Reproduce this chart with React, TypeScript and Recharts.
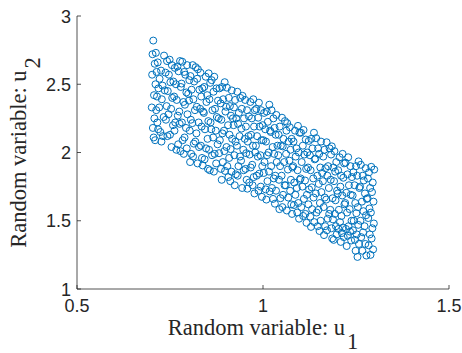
import React from 'react';
import { ScatterChart, Scatter, XAxis, YAxis } from 'recharts';

// Axis ticks
const xTicks = [0.5, 1, 1.5];
const xTickLabels = ['0.5', '1', '1.5'];
const yTicks = [1, 1.5, 2, 2.5, 3];
const yTickLabels = ['1', '1.5', '2', '2.5', '3'];

// Sample points [u1, u2], grouped by u1 range
const samplesA: [number, number][] = [
  [0.705, 2.82], [0.712, 2.73], [0.703, 2.72], [0.717, 2.66], [0.709, 2.65], [0.714, 2.59], [0.702, 2.57], [0.711, 2.5],
  [0.719, 2.47], [0.707, 2.42], [0.715, 2.41], [0.701, 2.33], [0.713, 2.31], [0.708, 2.25], [0.716, 2.22], [0.704, 2.18],
  [0.718, 2.17], [0.706, 2.11], [0.71, 2.09],
  [0.734, 2.71], [0.726, 2.6], [0.738, 2.585], [0.722, 2.54], [0.73, 2.49], [0.736, 2.455], [0.728, 2.39], [0.721, 2.33],
  [0.733, 2.26], [0.739, 2.24], [0.724, 2.15], [0.731, 2.12], [0.727, 2.08],
  [0.749, 2.68], [0.742, 2.67], [0.755, 2.64], [0.747, 2.57], [0.759, 2.52], [0.751, 2.515], [0.744, 2.45], [0.756, 2.4],
  [0.741, 2.34], [0.753, 2.32], [0.746, 2.28], [0.758, 2.2], [0.75, 2.13], [0.743, 2.12], [0.754, 2.04],
  [0.777, 2.67], [0.77, 2.63], [0.763, 2.62], [0.773, 2.595], [0.766, 2.5], [0.779, 2.48], [0.761, 2.41], [0.768, 2.385],
  [0.775, 2.3], [0.771, 2.27], [0.764, 2.22], [0.776, 2.21], [0.762, 2.16], [0.772, 2.06], [0.767, 2.02], [0.778, 2.01],
  [0.783, 2.665], [0.796, 2.64], [0.788, 2.59], [0.791, 2.57], [0.781, 2.505], [0.794, 2.44], [0.799, 2.43], [0.786, 2.37],
  [0.79, 2.35], [0.797, 2.28], [0.782, 2.22], [0.793, 2.18], [0.789, 2.11], [0.784, 2.09], [0.795, 2.03], [0.787, 1.99],
];

const samplesB: [number, number][] = [
  [0.811, 2.64], [0.819, 2.625], [0.805, 2.56], [0.802, 2.53], [0.815, 2.52], [0.808, 2.46], [0.813, 2.39], [0.801, 2.38],
  [0.817, 2.31], [0.806, 2.24], [0.81, 2.215], [0.803, 2.16], [0.818, 2.08], [0.814, 2.065], [0.807, 1.99], [0.812, 1.97], [0.804, 1.93],
  [0.825, 2.61], [0.832, 2.585], [0.823, 2.54], [0.837, 2.47], [0.829, 2.46], [0.834, 2.41], [0.822, 2.335], [0.831, 2.32],
  [0.839, 2.3], [0.827, 2.22], [0.835, 2.19], [0.821, 2.14], [0.833, 2.05], [0.828, 2.04], [0.836, 1.96], [0.824, 1.92], [0.838, 1.905],
  [0.854, 2.58], [0.846, 2.555], [0.858, 2.51], [0.842, 2.48], [0.85, 2.42], [0.856, 2.39], [0.848, 2.37], [0.841, 2.29],
  [0.853, 2.23], [0.859, 2.22], [0.844, 2.17], [0.851, 2.1], [0.847, 2.03], [0.855, 2.02], [0.843, 1.95], [0.852, 1.88], [0.857, 1.87],
  [0.869, 2.555], [0.862, 2.53], [0.875, 2.47], [0.867, 2.445], [0.879, 2.38], [0.871, 2.32], [0.864, 2.31], [0.876, 2.26],
  [0.861, 2.17], [0.873, 2.16], [0.866, 2.11], [0.878, 2.06], [0.87, 1.99], [0.863, 1.98], [0.874, 1.92], [0.868, 1.86],
  [0.897, 2.515], [0.89, 2.48], [0.883, 2.47], [0.893, 2.39], [0.886, 2.36], [0.899, 2.3], [0.881, 2.25], [0.888, 2.24],
  [0.895, 2.16], [0.891, 2.14], [0.884, 2.09], [0.896, 2.01], [0.882, 1.995], [0.892, 1.93], [0.887, 1.88], [0.898, 1.865], [0.889, 1.8],
];

const samplesC: [number, number][] = [
  [0.903, 2.475], [0.916, 2.455], [0.908, 2.4], [0.911, 2.34], [0.901, 2.335], [0.914, 2.27], [0.919, 2.25], [0.906, 2.2],
  [0.91, 2.13], [0.917, 2.1], [0.902, 2.04], [0.913, 2.025], [0.909, 1.96], [0.904, 1.9], [0.915, 1.86], [0.907, 1.82], [0.912, 1.79],
  [0.931, 2.445], [0.939, 2.4], [0.925, 2.385], [0.922, 2.33], [0.935, 2.29], [0.928, 2.25], [0.933, 2.21], [0.921, 2.2],
  [0.937, 2.12], [0.926, 2.08], [0.93, 2.05], [0.923, 1.98], [0.938, 1.97], [0.934, 1.9], [0.927, 1.84], [0.932, 1.83], [0.924, 1.76],
  [0.945, 2.415], [0.952, 2.385], [0.943, 2.32], [0.957, 2.31], [0.949, 2.25], [0.954, 2.19], [0.942, 2.175], [0.951, 2.1],
  [0.959, 2.08], [0.947, 2.02], [0.955, 1.995], [0.941, 1.94], [0.953, 1.88], [0.948, 1.87], [0.956, 1.8], [0.944, 1.74], [0.958, 1.735],
  [0.974, 2.39], [0.966, 2.37], [0.978, 2.31], [0.962, 2.265], [0.97, 2.25], [0.976, 2.19], [0.968, 2.13], [0.961, 2.12],
  [0.973, 2.05], [0.979, 2.0], [0.964, 1.985], [0.971, 1.91], [0.967, 1.89], [0.975, 1.82], [0.963, 1.78], [0.972, 1.76], [0.977, 1.7],
  [0.989, 2.365], [0.982, 2.32], [0.995, 2.31], [0.987, 2.255], [0.999, 2.2], [0.991, 2.19], [0.984, 2.12], [0.996, 2.09],
  [0.981, 2.05], [0.993, 1.98], [0.986, 1.97], [0.998, 1.9], [0.99, 1.845], [0.983, 1.83], [0.994, 1.75], [0.988, 1.72], [0.997, 1.675],
];

const samplesD: [number, number][] = [
  [1.017, 2.35], [1.01, 2.3], [1.003, 2.29], [1.013, 2.225], [1.006, 2.17], [1.019, 2.16], [1.001, 2.09], [1.008, 2.08],
  [1.015, 2.0], [1.011, 1.98], [1.004, 1.93], [1.016, 1.86], [1.002, 1.85], [1.012, 1.79], [1.007, 1.73], [1.018, 1.715], [1.009, 1.655],
  [1.023, 2.31], [1.036, 2.275], [1.028, 2.25], [1.031, 2.18], [1.021, 2.15], [1.034, 2.13], [1.039, 2.05], [1.026, 2.04],
  [1.03, 1.99], [1.037, 1.93], [1.022, 1.9], [1.033, 1.83], [1.029, 1.81], [1.024, 1.74], [1.035, 1.72], [1.027, 1.66], [1.032, 1.625],
  [1.051, 2.255], [1.059, 2.23], [1.045, 2.19], [1.042, 2.13], [1.055, 2.1], [1.048, 2.05], [1.053, 2.045], [1.041, 1.98],
  [1.057, 1.93], [1.046, 1.9], [1.05, 1.83], [1.043, 1.8], [1.058, 1.76], [1.054, 1.69], [1.047, 1.665], [1.052, 1.6], [1.044, 1.585],
  [1.065, 2.215], [1.072, 2.185], [1.063, 2.16], [1.077, 2.1], [1.069, 2.08], [1.074, 2.02], [1.062, 1.99], [1.071, 1.94],
  [1.079, 1.89], [1.067, 1.875], [1.075, 1.8], [1.061, 1.76], [1.073, 1.72], [1.068, 1.67], [1.076, 1.62], [1.064, 1.575], [1.078, 1.55],
  [1.094, 2.195], [1.086, 2.16], [1.098, 2.145], [1.082, 2.08], [1.09, 2.03], [1.096, 2.0], [1.088, 1.97], [1.081, 1.9],
  [1.093, 1.87], [1.099, 1.8], [1.084, 1.78], [1.091, 1.74], [1.087, 1.69], [1.095, 1.63], [1.083, 1.615], [1.092, 1.56], [1.097, 1.515],
];

const samplesE: [number, number][] = [
  [1.109, 2.165], [1.102, 2.145], [1.115, 2.095], [1.107, 2.05], [1.119, 2.0], [1.111, 1.985], [1.104, 1.93], [1.116, 1.88],
  [1.101, 1.81], [1.113, 1.795], [1.106, 1.75], [1.118, 1.69], [1.11, 1.66], [1.103, 1.6], [1.114, 1.55], [1.108, 1.535], [1.117, 1.485],
  [1.137, 2.145], [1.13, 2.1], [1.123, 2.085], [1.133, 2.03], [1.126, 1.98], [1.139, 1.95], [1.121, 1.89], [1.128, 1.87],
  [1.135, 1.81], [1.131, 1.745], [1.124, 1.73], [1.136, 1.67], [1.122, 1.62], [1.132, 1.585], [1.127, 1.53], [1.138, 1.49], [1.129, 1.455],
  [1.143, 2.105], [1.156, 2.08], [1.148, 2.03], [1.151, 1.99], [1.141, 1.955], [1.154, 1.89], [1.159, 1.85], [1.146, 1.83],
  [1.15, 1.77], [1.157, 1.71], [1.142, 1.7], [1.153, 1.63], [1.149, 1.58], [1.144, 1.56], [1.155, 1.5], [1.147, 1.46], [1.152, 1.425],
  [1.171, 2.075], [1.179, 2.03], [1.165, 2.02], [1.162, 1.97], [1.175, 1.9], [1.168, 1.885], [1.173, 1.83], [1.161, 1.79],
  [1.177, 1.74], [1.166, 1.67], [1.17, 1.655], [1.163, 1.6], [1.178, 1.55], [1.174, 1.515], [1.167, 1.46], [1.172, 1.43], [1.164, 1.395],
  [1.185, 2.045], [1.192, 2.01], [1.183, 1.985], [1.197, 1.93], [1.189, 1.89], [1.194, 1.86], [1.182, 1.8], [1.191, 1.79],
  [1.199, 1.72], [1.187, 1.665], [1.195, 1.65], [1.181, 1.58], [1.193, 1.55], [1.188, 1.51], [1.196, 1.46], [1.184, 1.445],
  [1.198, 1.4], [1.186, 1.37], [1.19, 1.36],
];

const samplesF: [number, number][] = [
  [1.214, 1.99], [1.206, 1.965], [1.218, 1.92], [1.202, 1.87], [1.21, 1.83], [1.216, 1.815], [1.208, 1.75], [1.201, 1.7],
  [1.213, 1.685], [1.219, 1.62], [1.204, 1.58], [1.211, 1.535], [1.207, 1.49], [1.215, 1.45], [1.203, 1.44], [1.212, 1.41],
  [1.217, 1.38], [1.209, 1.345],
  [1.229, 1.965], [1.222, 1.925], [1.235, 1.9], [1.227, 1.84], [1.239, 1.82], [1.231, 1.76], [1.224, 1.705], [1.236, 1.69],
  [1.221, 1.63], [1.233, 1.585], [1.226, 1.56], [1.238, 1.5], [1.23, 1.46], [1.223, 1.44], [1.234, 1.42], [1.228, 1.39],
  [1.237, 1.355], [1.225, 1.315],
  [1.257, 1.935], [1.25, 1.9], [1.243, 1.855], [1.253, 1.83], [1.246, 1.76], [1.259, 1.74], [1.241, 1.685], [1.248, 1.63],
  [1.255, 1.6], [1.251, 1.555], [1.244, 1.5], [1.256, 1.47], [1.242, 1.43], [1.252, 1.4], [1.247, 1.36], [1.258, 1.33],
  [1.249, 1.28], [1.254, 1.235],
  [1.263, 1.91], [1.276, 1.885], [1.268, 1.83], [1.271, 1.795], [1.261, 1.75], [1.274, 1.7], [1.279, 1.66], [1.266, 1.64],
  [1.27, 1.57], [1.277, 1.54], [1.262, 1.5], [1.273, 1.46], [1.269, 1.415], [1.264, 1.38], [1.275, 1.33], [1.267, 1.28], [1.278, 1.245],
  [1.291, 1.895], [1.299, 1.875], [1.285, 1.855], [1.282, 1.81], [1.295, 1.78], [1.288, 1.74], [1.293, 1.71], [1.281, 1.665],
  [1.297, 1.64], [1.286, 1.59], [1.29, 1.56], [1.283, 1.52], [1.298, 1.48], [1.294, 1.445], [1.287, 1.4], [1.292, 1.37],
  [1.284, 1.32], [1.296, 1.29], [1.289, 1.25],
];

const points = [...samplesA, ...samplesB, ...samplesC, ...samplesD, ...samplesE, ...samplesF].map(([u1, u2]) => ({ u1, u2 }));

const AXIS_COLOR = '#262626';
const MARKER_COLOR = '#0072BD';
const SANS = '"Liberation Sans", Arial, Helvetica, sans-serif';
const SERIF = '"Liberation Serif", "Times New Roman", Times, serif';

const XTick = (props: any) => {
  const { x, y, payload } = props;
  const idx = xTicks.indexOf(payload.value);
  const label = idx >= 0 ? xTickLabels[idx] : String(payload.value);
  return (
    <g>
      <line x1={x} x2={x} y1={y} y2={y - 4} stroke={AXIS_COLOR} strokeWidth={0.8} />
      <text x={x} y={y + 23} textAnchor="middle" fontFamily={SANS} fontSize={18} fill={AXIS_COLOR}>
        {label}
      </text>
    </g>
  );
};

const YTick = (props: any) => {
  const { x, y, payload } = props;
  const idx = yTicks.indexOf(payload.value);
  const label = idx >= 0 ? yTickLabels[idx] : String(payload.value);
  return (
    <g>
      <line x1={x} x2={x + 4} y1={y} y2={y} stroke={AXIS_COLOR} strokeWidth={0.8} />
      <text x={x - 6} y={y + 6.5} textAnchor="end" fontFamily={SANS} fontSize={18} fill={AXIS_COLOR}>
        {label}
      </text>
    </g>
  );
};

const XLabel = (props: any) => {
  const vb = props.viewBox || {};
  const cx = vb.x + vb.width / 2;
  return (
    <text x={cx} y={vb.y + 46} textAnchor="middle" fontFamily={SERIF} fontSize={22.5} fill={AXIS_COLOR}>
      Random variable: u<tspan dx={2} dy={14}>1</tspan>
    </text>
  );
};

const YLabel = (props: any) => {
  const vb = props.viewBox || {};
  const cy = vb.y + vb.height / 2;
  const bx = 26;
  return (
    <text
      x={bx}
      y={cy}
      transform={`rotate(-90, ${bx}, ${cy})`}
      textAnchor="middle"
      fontFamily={SERIF}
      fontSize={22.5}
      fill={AXIS_COLOR}
    >
      Random variable: u<tspan dx={2} dy={14}>2</tspan>
    </text>
  );
};

const Ring = (props: any) => {
  const { cx, cy } = props;
  return <circle cx={cx} cy={cy} r={3.5} fill="none" stroke={MARKER_COLOR} strokeWidth={1} />;
};

export default function App() {
  return (
    <div style={{ position: 'absolute', left: 0, top: 0, width: 462, height: 353, background: '#fff' }}>
      <ScatterChart width={462} height={353} margin={{ top: 16, right: 13, bottom: 0, left: 0 }}>
        <XAxis
          type="number"
          dataKey="u1"
          domain={[0.5, 1.5]}
          ticks={xTicks}
          allowDataOverflow
          height={64}
          tickSize={0}
          tickMargin={0}
          tickLine={false}
          axisLine={{ stroke: AXIS_COLOR, strokeWidth: 0.8 }}
          tick={<XTick />}
          interval={0}
          label={{ content: <XLabel /> }}
        />
        <YAxis
          type="number"
          dataKey="u2"
          domain={[1, 3]}
          ticks={yTicks}
          allowDataOverflow
          width={77}
          tickSize={0}
          tickMargin={0}
          tickLine={false}
          axisLine={{ stroke: AXIS_COLOR, strokeWidth: 0.8 }}
          tick={<YTick />}
          interval={0}
          label={{ content: <YLabel /> }}
        />
        <Scatter data={points} shape={<Ring />} isAnimationActive={false} />
      </ScatterChart>
    </div>
  );
}
